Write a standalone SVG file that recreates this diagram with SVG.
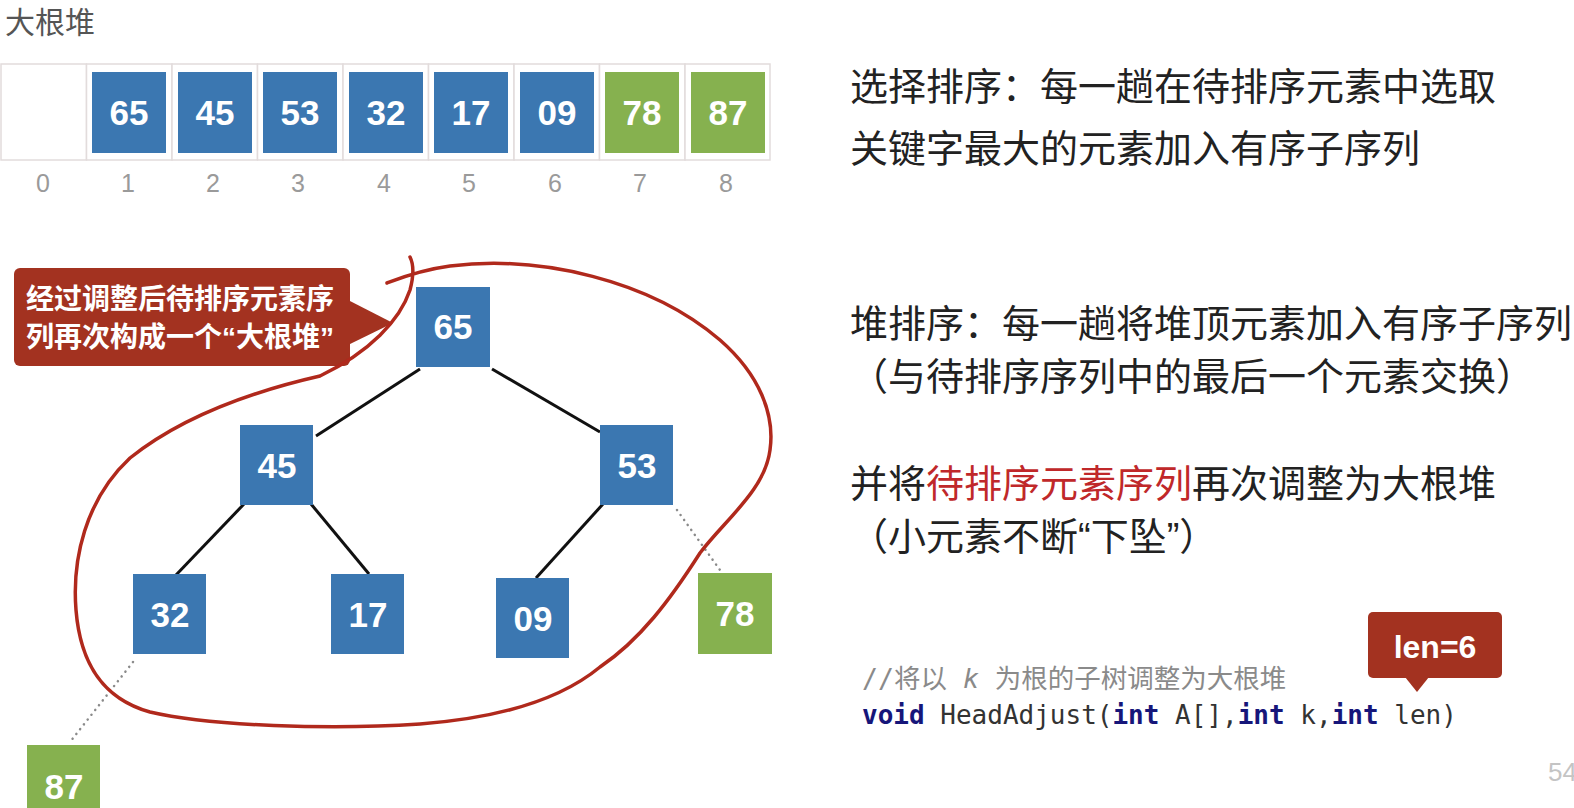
<svg xmlns="http://www.w3.org/2000/svg" width="1574" height="808" viewBox="0 0 1574 808">
<style>
.cell{fill:#fff;stroke:#e2dcdc;stroke-width:1.5}
.blue{fill:#3b77b1}
.green{fill:#86b14f}
.num{font-family:"Liberation Sans",Arial,sans-serif;font-size:35px;fill:#fff;text-anchor:middle;font-weight:bold}
.idx{font-family:"Liberation Sans",Arial,sans-serif;font-size:25px;fill:#9a9a9a;text-anchor:middle}
.cjk{font-family:"Noto Sans CJK SC","Noto Sans",sans-serif;font-size:38px;fill:#222}
.q{font-family:"Liberation Sans",Arial,sans-serif}
.edge{stroke:#111;stroke-width:3;fill:none}
.dot{stroke:#8a8a8a;stroke-width:2.5;fill:none;stroke-dasharray:0.1 6;stroke-linecap:round}
.callout{fill:#a33220}
.ctext{font-family:"Noto Sans CJK SC",sans-serif;font-size:28px;font-weight:bold;fill:#fff}
.mono{font-family:"DejaVu Sans Mono","Liberation Mono",monospace;font-size:26px;fill:#333}
.kw{fill:#16167a;font-weight:bold}
</style>

<text x="5" y="33" font-family="Noto Sans CJK SC,sans-serif" font-size="30" fill="#555">大根堆</text>

<g id="array">
  <rect class="cell" x="1" y="64" width="85.5" height="96"/>
  <rect class="cell" x="86.5" y="64" width="85.5" height="96"/>
  <rect class="cell" x="172" y="64" width="85.5" height="96"/>
  <rect class="cell" x="257.5" y="64" width="85.5" height="96"/>
  <rect class="cell" x="343" y="64" width="85.5" height="96"/>
  <rect class="cell" x="428.5" y="64" width="85.5" height="96"/>
  <rect class="cell" x="514" y="64" width="85.5" height="96"/>
  <rect class="cell" x="599.5" y="64" width="85.5" height="96"/>
  <rect class="cell" x="685" y="64" width="85" height="96"/>
  <g id="a1"><rect class="blue" x="92" y="72" width="74" height="81"/><text class="num" x="129" y="125">65</text></g>
  <g id="a2"><rect class="blue" x="178" y="72" width="74" height="81"/><text class="num" x="215" y="125">45</text></g>
  <g id="a3"><rect class="blue" x="263" y="72" width="74" height="81"/><text class="num" x="300" y="125">53</text></g>
  <g id="a4"><rect class="blue" x="349" y="72" width="74" height="81"/><text class="num" x="386" y="125">32</text></g>
  <g id="a5"><rect class="blue" x="434" y="72" width="74" height="81"/><text class="num" x="471" y="125">17</text></g>
  <g id="a6"><rect class="blue" x="520" y="72" width="74" height="81"/><text class="num" x="557" y="125">09</text></g>
  <g id="a7"><rect class="green" x="605" y="72" width="74" height="81"/><text class="num" x="642" y="125">78</text></g>
  <g id="a8"><rect class="green" x="691" y="72" width="74" height="81"/><text class="num" x="728" y="125">87</text></g>
  <text class="idx" x="43" y="192">0</text>
  <text class="idx" x="128" y="192">1</text>
  <text class="idx" x="213" y="192">2</text>
  <text class="idx" x="298" y="192">3</text>
  <text class="idx" x="384" y="192">4</text>
  <text class="idx" x="469" y="192">5</text>
  <text class="idx" x="555" y="192">6</text>
  <text class="idx" x="640" y="192">7</text>
  <text class="idx" x="726" y="192">8</text>
</g>

<g id="connectors">
  <line class="edge" x1="420" y1="369" x2="316" y2="436"/>
  <line class="edge" x1="492" y1="369" x2="600" y2="432"/>
  <line class="edge" x1="244" y1="504" x2="176" y2="575"/>
  <line class="edge" x1="311" y1="504" x2="369" y2="574"/>
  <line class="edge" x1="603" y1="504" x2="536" y2="578"/>
  <line class="dot" x1="677" y1="510" x2="720" y2="570"/>
  <line class="dot" x1="133" y1="662" x2="70" y2="742"/>
</g>

<g id="n65"><rect class="blue" x="416" y="287" width="74" height="80"/><text class="num" x="453" y="339">65</text></g>
<g id="n45"><rect class="blue" x="240" y="425" width="73" height="80"/><text class="num" x="277" y="478">45</text></g>
<g id="n53"><rect class="blue" x="600" y="425" width="73" height="80"/><text class="num" x="637" y="478">53</text></g>
<g id="n32"><rect class="blue" x="133" y="574" width="73" height="80"/><text class="num" x="170" y="627">32</text></g>
<g id="n17"><rect class="blue" x="331" y="574" width="73" height="80"/><text class="num" x="368" y="627">17</text></g>
<g id="n09"><rect class="blue" x="496" y="578" width="73" height="80"/><text class="num" x="533" y="631">09</text></g>
<g id="n78"><rect class="green" x="698" y="573" width="74" height="81"/><text class="num" x="735" y="626">78</text></g>
<g id="n87"><rect class="green" x="27" y="745" width="73" height="80"/><text class="num" x="64" y="799">87</text></g>

<g id="callout">
  <rect class="callout" x="14" y="268" width="336" height="98" rx="6"/>
  <polygon class="callout" points="348,300 393,323 348,345"/>
  <text class="ctext" x="26" y="309">经过调整后待排序元素序</text>
  <text class="ctext" x="26" y="347">列再次构成一个<tspan class="q">“</tspan>大根堆<tspan class="q">”</tspan></text>
</g>

<path id="lasso" d="M 387 283 C 400 278 420 270 450 266 C 540 255 650 280 720 340 C 760 375 775 415 770 450 C 765 490 725 520 700 553 C 670 600 640 640 600 667 C 560 700 500 718 420 724 C 330 730 210 726 150 712 C 100 698 80 660 76 610 C 72 560 85 500 130 458 C 180 418 250 392 320 376 C 370 352 400 320 410 290 C 414 275 414 265 410 257" fill="none" stroke="#b0291c" stroke-width="3.5" stroke-linecap="round"/>

<g id="text-right">
  <text class="cjk" x="850" y="100">选择排序：每一趟在待排序元素中选取</text>
  <text class="cjk" x="850" y="162">关键字最大的元素加入有序子序列</text>
  <text class="cjk" x="850" y="337">堆排序：每一趟将堆顶元素加入有序子序列</text>
  <text class="cjk" x="850" y="390">（与待排序序列中的最后一个元素交换）</text>
  <text class="cjk" x="850" y="497">并将<tspan fill="#c0282a">待排序元素序列</tspan>再次调整为大根堆</text>
  <text class="cjk" x="850" y="550">（小元素不断<tspan class="q">“</tspan>下坠<tspan class="q">”</tspan>）</text>
</g>

<g id="code">
  <text x="862" y="688" font-family="DejaVu Sans Mono,Noto Sans CJK SC,monospace" font-size="26.5" fill="#8a8a8a">//将以 <tspan font-style="italic">k</tspan> 为根的子树调整为大根堆</text>
  <text class="mono" x="862" y="724"><tspan class="kw">void</tspan> HeadAdjust(<tspan class="kw">int</tspan> A[],<tspan class="kw">int</tspan> k,<tspan class="kw">int</tspan> len)</text>
</g>

<g id="len-callout">
  <rect class="callout" x="1368" y="612" width="134" height="66" rx="5"/>
  <polygon class="callout" points="1405,677 1429,677 1417,692"/>
  <text x="1435" y="658" font-family="Liberation Sans,Arial,sans-serif" font-size="32" font-weight="bold" fill="#fff" text-anchor="middle">len=6</text>
</g>

<text x="1548" y="781" font-family="Liberation Sans,Arial,sans-serif" font-size="26" fill="#c4c4c4">54</text>
</svg>
